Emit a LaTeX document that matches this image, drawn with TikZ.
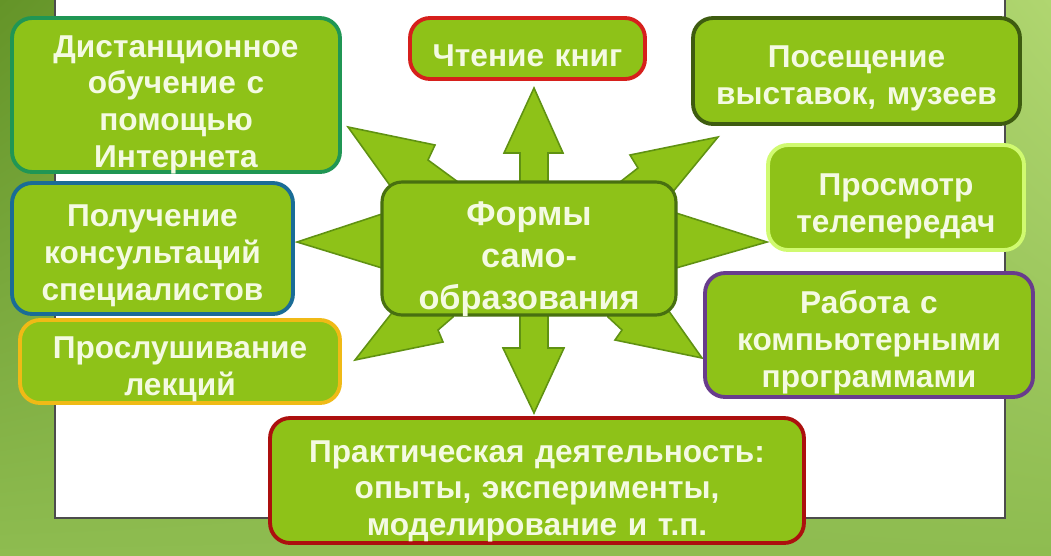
\documentclass[tikz,border=0pt]{standalone}
\usepackage{fontspec}
\setmainfont{Liberation Sans}
\usepackage{xcolor}
\usepackage{tikz}
\usetikzlibrary{arrows.meta,positioning,shadings}

\definecolor{boxgreen}{RGB}{142,194,24}
\definecolor{edgegreen}{RGB}{96,146,18}
\definecolor{textcream}{RGB}{244,250,226}
\definecolor{bgdark}{RGB}{100,148,40}
\definecolor{bgmid}{RGB}{142,188,80}
\definecolor{bglight}{RGB}{176,214,112}
\definecolor{lineteal}{RGB}{32,150,84}
\definecolor{lineblue}{RGB}{26,108,150}
\definecolor{lineyellow}{RGB}{240,186,22}
\definecolor{linered}{RGB}{214,32,28}
\definecolor{lineolive}{RGB}{62,92,16}
\definecolor{linelime}{RGB}{208,250,112}
\definecolor{linepurple}{RGB}{104,60,140}
\definecolor{linedarkred}{RGB}{172,16,14}
\definecolor{linecore}{RGB}{72,112,16}

\begin{document}
\begin{tikzpicture}[
    x=0.02cm, y=-0.02cm,
    box/.style={draw, line width=2.2pt, rounded corners=0.4cm, fill=boxgreen, text=textcream,
      align=center, inner xsep=2pt, inner ysep=-14pt, font=\bfseries\fontsize{18}{21}\selectfont, lower=21pt},
    core/.style={box, line width=1.8pt, font=\bfseries\fontsize{19.5}{24}\selectfont},
    lower/.style={execute at begin node={\rule{0pt}{#1}}},
    spike/.style={fill=boxgreen, draw=edgegreen, line width=0.9pt, line join=miter}
  ]
    \useasboundingbox (0,0) rectangle (1051,555);
    \shade[upper left=bgdark, lower left=bgmid, upper right=bglight, lower right=bgmid] (0,0) rectangle (1051,555);
    \filldraw[fill=white, draw=black!70, line width=0.8pt] (55,-5) rectangle (1005,518);

    \filldraw[spike] (348,127) -- (435,145) -- (428,160) -- (458,182) -- (458,205) -- (404,205) -- cycle;
    \filldraw[spike] (297,242) -- (382,214) -- (400,214) -- (400,268) -- (382,268) -- cycle;
    \filldraw[spike] (355,360) -- (402,300) -- (453,300) -- (453,317) -- (438,330) -- (443,342) -- cycle;
    \filldraw[spike] (718,137) -- (630,155) -- (638,168) -- (620,182) -- (620,205) -- (662,205) -- cycle;
    \filldraw[spike] (767,242) -- (676,213) -- (660,213) -- (660,268) -- (676,268) -- cycle;
    \filldraw[spike] (702,358) -- (615,340) -- (622,330) -- (608,317) -- (608,300) -- (661,300) -- cycle;
    \filldraw[spike] (520,200) -- (520,153) -- (504,153) -- (534,88) -- (563,153) -- (548,153) -- (548,200) -- cycle;
    \filldraw[spike] (520,300) -- (520,348) -- (503,348) -- (534,413) -- (564,348) -- (548,348) -- (548,300) -- cycle;

    \node[core, draw=linecore, minimum width=5.88cm, minimum height=2.66cm, text width=5.6cm, lower=25.7pt] (forms) at (529,248.5) {Формы\\само-\\образования};
    \node[box, draw=lineteal, minimum width=6.56cm, minimum height=3.08cm, text width=6.3cm, lower=23.5pt] (distance) at (176,95) {Дистанционное\\обучение с\\помощью\\Интернета};
    \node[box, draw=lineblue, minimum width=5.62cm, minimum height=2.62cm, text width=5.4cm, lower=19pt] (consult) at (152.5,248.5) {Получение\\консультаций\\специалистов};
    \node[box, draw=lineyellow, minimum width=6.4cm, minimum height=1.66cm, text width=6.1cm, lower=20pt] (lectures) at (180,361.5) {Прослушивание\\лекций};
    \node[box, draw=linered, minimum width=4.7cm, minimum height=1.22cm, text width=4.4cm, lower=15.5pt] (books) at (527.5,48.5) {Чтение книг};
    \node[box, draw=lineolive, minimum width=6.54cm, minimum height=2.12cm, text width=6.3cm, lower=21.3pt] (visits) at (856.5,71) {Посещение\\выставок, музеев};
    \node[box, draw=linelime, minimum width=5.12cm, minimum height=2.1cm, text width=4.9cm, lower=22.3pt] (tv) at (896,197.5) {Просмотр\\телепередач};
    \node[box, draw=linepurple, minimum width=6.56cm, minimum height=2.48cm, text width=6.3cm, lower=16.7pt] (software) at (869,335) {Работа с\\компьютерными\\программами};
    \node[box, draw=linedarkred, minimum width=10.68cm, minimum height=2.5cm, text width=10.4cm, lower=24.7pt] (practice) at (537,480.5) {Практическая деятельность:\\опыты, эксперименты,\\моделирование и т.п.};
  \end{tikzpicture}
\end{document}
